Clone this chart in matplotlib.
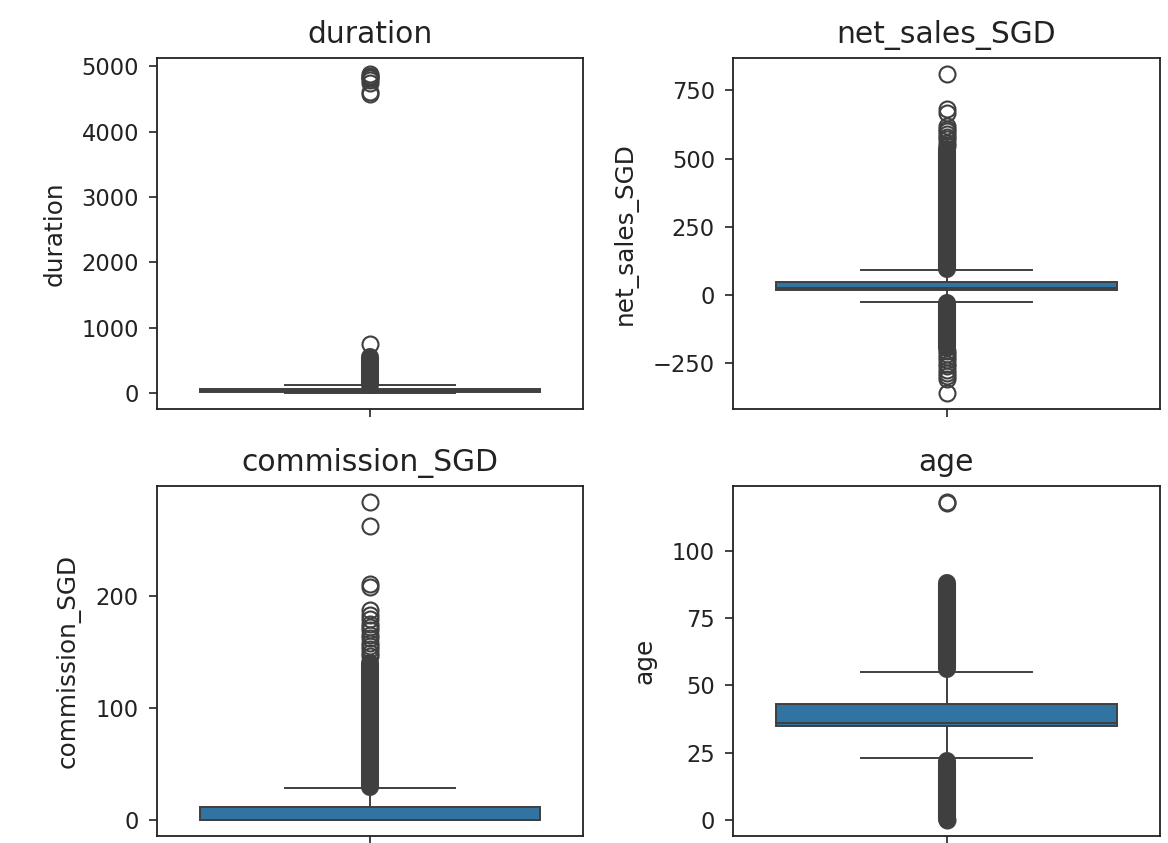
import matplotlib
matplotlib.use("Agg")
import matplotlib.pyplot as plt

# box statistics: (whislo, q1, median, q3, whishi)
columns = ["duration", "net_sales_SGD", "commission_SGD", "age"]
duration_stats = [-2, 9, 22, 53, 118]
net_sales_stats = [-27, 18, 26.5, 48, 93]
commission_stats = [0, 0, 0, 11.55, 28.5]
age_stats = [23, 35, 36, 43, 55]

# individual outliers that can be told apart
duration_points = [750, 4580, 4609, 4736, 4784, 4815, 4829, 4857, 4881]
net_sales_points = [547, 558, 570, 580, 590, 600, 610, 619, 666, 680, 810,
                    -205, -215, -228, -240, -252, -262, -275, -285,
                    -298, -310, -360]
commission_points = [146, 149, 152, 155, 158, 162, 165, 169, 172, 175, 179,
                     183, 187, 208, 210, 262, 283.5]
age_points = [0, 117.8, 118.2]

# ranges where outliers are so dense they merge into a solid column
duration_runs = [(122, 548)]
net_sales_runs = [(95, 535), (-29, -195)]
commission_runs = [(29.5, 140)]
age_runs = [(56, 88), (0.5, 22)]

all_stats = [duration_stats, net_sales_stats, commission_stats, age_stats]
all_points = [duration_points, net_sales_points, commission_points, age_points]
all_runs = [duration_runs, net_sales_runs, commission_runs, age_runs]
y_ticks = [[0, 1000, 2000, 3000, 4000, 5000],
           [-250, 0, 250, 500, 750],
           [0, 100, 200],
           [0, 25, 50, 75, 100]]

box_color = "#3274a1"
line_color = "#3f3f3f"
ms, mew = 11.5, 1.5

plt.rcParams["font.family"] = "DejaVu Sans"
fig = plt.figure(figsize=(11.68, 8.43), dpi=100)

W, H = 1168, 843
boxes_px = [(157, 58, 583, 409), (733, 58, 1160, 409),
            (157, 486, 583, 836), (733, 486, 1160, 836)]

for i, name in enumerate(columns):
    l, t, r, b = boxes_px[i]
    ax = fig.add_axes([l / W, 1 - b / H, (r - l) / W, (b - t) / H])
    lo, q1, med, q3, hi = all_stats[i]
    st = dict(whislo=lo, q1=q1, med=med, q3=q3, whishi=hi, fliers=[])
    ax.bxp([st], positions=[0], widths=0.8, capwidths=0.4, patch_artist=True,
           showfliers=False,
           boxprops=dict(facecolor=box_color, edgecolor=line_color, linewidth=1.4),
           medianprops=dict(color=line_color, linewidth=1.4),
           whiskerprops=dict(color=line_color, linewidth=1.4),
           capprops=dict(color=line_color, linewidth=1.4))
    for a, z in all_runs[i]:
        ax.plot([0, 0], [a, z], color=line_color, lw=ms + mew,
                solid_capstyle="round", zorder=4)
    ax.plot([0] * len(all_points[i]), all_points[i], "o", mfc="none",
            mec=line_color, ms=ms, mew=mew, zorder=4)

    vals = [lo, hi] + list(all_points[i]) + [v for run in all_runs[i] for v in run]
    vmin, vmax = min(vals), max(vals)
    m = (vmax - vmin) * 0.05
    ax.set_ylim(vmin - m, vmax + m)
    ax.set_xlim(-0.5, 0.5)
    ax.set_xticks([0])
    ax.set_xticklabels([""])
    ax.set_yticks(y_ticks[i])
    ax.tick_params(labelsize=16.3, length=6, width=1.2, pad=7, colors="#222222")
    for s in ax.spines.values():
        s.set_linewidth(1.3)
        s.set_color("#222222")
    ax.set_title(name, fontsize=21.4, pad=10.5, color="#222222")
    ax.set_ylabel(name, fontsize=17.8, labelpad=11, color="#222222")

fig.savefig("out.png", dpi=100)
